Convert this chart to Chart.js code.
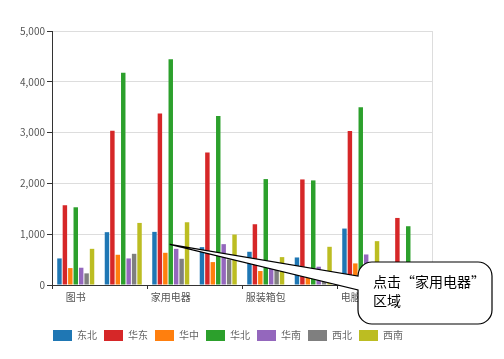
<!DOCTYPE html>
<html>
<head>
<meta charset="utf-8">
<script src="https://cdn.jsdelivr.net/npm/chart.js@4"></script>
<style>
  html, body { margin: 0; padding: 0; background: #fff; }
  #wrap { width: 504px; height: 359px; }
</style>
</head>
<body>
<div id="wrap"><canvas id="chart"></canvas></div>
<script>
// Categories (every other label is shown on the axis)
const categories = ['图书', '手机数码', '家用电器', '美妆个护', '服装箱包', '运动户外', '电脑办公', '食品饮料'];

// Sales per region
const dongbei = [523, 1040, 1046, 745, 654, 542, 1111, 420];
const huadong = [1570, 3035, 3375, 2608, 1196, 2078, 3033, 1320];
const huazhong = [333, 595, 634, 451, 275, 163, 425, 180];
const huabei = [1530, 4176, 4444, 3327, 2085, 2059, 3497, 1157];
const huanan = [340, 523, 712, 804, 420, 360, 601, 300];
const xibei = [229, 614, 516, 503, 380, 280, 350, 240];
const xinan = [712, 1222, 1235, 993, 549, 752, 863, 400];

const yTicks = { min: 0, max: 5000, step: 1000 };
const calloutText = ['点击“家用电器”', '区域'];

const font = '"Noto Sans CJK SC", "Noto Sans", sans-serif';

// Speech bubble pointing at the 家用电器 group
const calloutPlugin = {
  id: 'callout',
  afterDraw(chart) {
    const ctx = chart.ctx;
    const tipX = chart.scales.x.getPixelForValue(2) - 1;
    const tipY = chart.scales.y.getPixelForValue(800);
    const left = 358, right = 492, top = 262, bottom = 324, r = 14;
    ctx.save();
    ctx.beginPath();
    ctx.moveTo(tipX, tipY);
    ctx.lineTo(left, 290);
    ctx.lineTo(left, bottom - r);
    ctx.arcTo(left, bottom, left + r, bottom, r);
    ctx.lineTo(right - r, bottom);
    ctx.arcTo(right, bottom, right, bottom - r, r);
    ctx.lineTo(right, top + r);
    ctx.arcTo(right, top, right - r, top, r);
    ctx.lineTo(left + r, top);
    ctx.arcTo(left, top, left, top + r, r);
    ctx.closePath();
    ctx.fillStyle = '#fff';
    ctx.fill();
    ctx.strokeStyle = '#000';
    ctx.lineWidth = 1.2;
    ctx.stroke();
    ctx.fillStyle = '#000';
    ctx.font = '14px ' + font;
    ctx.textBaseline = 'middle';
    ctx.fillText(calloutText[0], 373, 282);
    ctx.fillText(calloutText[1], 373, 301);
    ctx.restore();
  }
};

const series = [
  { label: '东北', data: dongbei, color: '#1f77b4' },
  { label: '华东', data: huadong, color: '#d62728' },
  { label: '华中', data: huazhong, color: '#ff7f0e' },
  { label: '华北', data: huabei, color: '#2ca02c' },
  { label: '华南', data: huanan, color: '#9467bd' },
  { label: '西北', data: xibei, color: '#7f7f7f' },
  { label: '西南', data: xinan, color: '#bcbd22' }
];

const tickMarkColor = c => (c.index % 2 === 0 ? '#333' : 'rgba(0,0,0,0)');

new Chart(document.getElementById('chart'), {
  type: 'bar',
  data: {
    labels: categories,
    datasets: series.map(s => ({
      label: s.label,
      data: s.data,
      backgroundColor: s.color,
      borderWidth: 0,
      categoryPercentage: 0.8,
      barPercentage: 0.82
    }))
  },
  options: {
    responsive: true,
    maintainAspectRatio: false,
    animation: false,
    layout: { padding: { top: 31, right: 48, bottom: 8, left: 0 } },
    plugins: {
      legend: {
        position: 'bottom',
        labels: {
          boxWidth: 19,
          boxHeight: 11,
          padding: 7,
          color: '#666',
          font: { family: font, size: 10 }
        }
      },
      tooltip: { enabled: false }
    },
    scales: {
      x: {
        offset: true,
        afterFit: s => { s.height = 38; },
        grid: {
          offset: true,
          drawOnChartArea: false,
          tickLength: 4,
          color: tickMarkColor,
          tickColor: tickMarkColor
        },
        border: { color: '#333' },
        ticks: {
          autoSkip: false,
          maxRotation: 0,
          padding: 2,
          color: '#555',
          font: { family: font, size: 10 },
          callback: (v, i) => (i % 2 === 0 ? categories[i] : '')
        }
      },
      y: {
        min: yTicks.min,
        max: yTicks.max,
        afterFit: s => { s.width = 52; },
        grid: { color: '#ddd', tickColor: '#333', tickLength: 5 },
        border: { color: '#333' },
        ticks: {
          stepSize: yTicks.step,
          padding: 2,
          color: '#555',
          font: { family: font, size: 10 }
        }
      },
      yr: {
        position: 'right',
        afterFit: s => { s.width = 24; },
        grid: { drawOnChartArea: false, drawTicks: false },
        border: { color: '#ddd' },
        ticks: { display: false }
      }
    }
  },
  plugins: [calloutPlugin]
});
</script>
</body>
</html>
